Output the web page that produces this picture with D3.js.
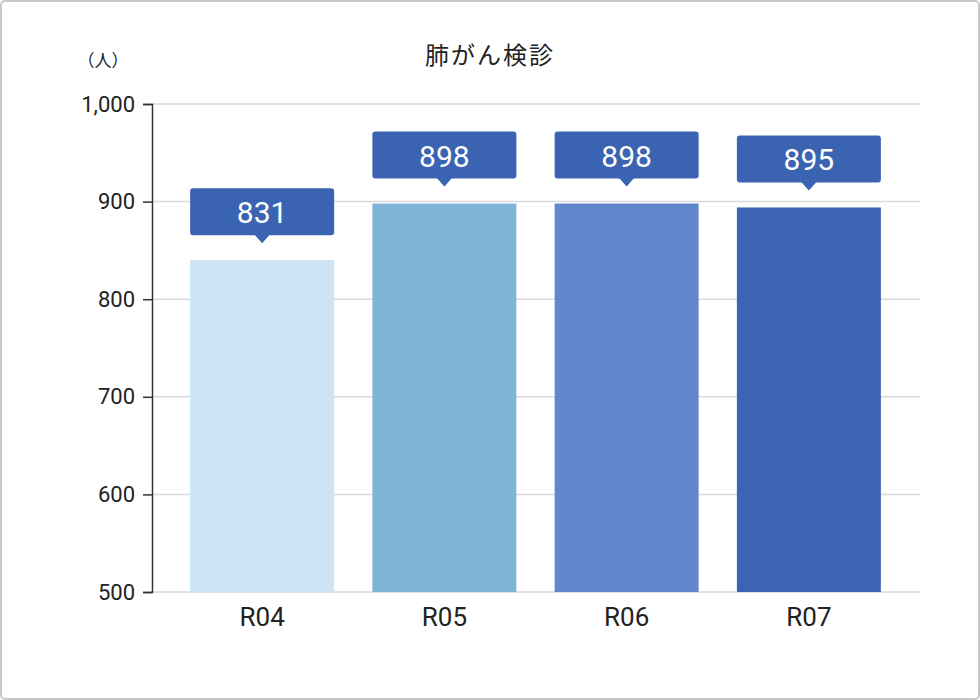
<!DOCTYPE html>
<html><head><meta charset="utf-8">
<script src="https://cdn.jsdelivr.net/npm/d3@7"></script>
<style>body{margin:0;background:#fff;font-family:"Noto Sans CJK JP","Noto Sans",sans-serif}</style>
</head><body><svg id="c" width="980" height="700"></svg>
<script>
const categories=["R04","R05","R06","R07"];
const values=[840,898,898,894];
const labels=["831","898","898","895"];
const colors=["#cce4f5","#7fb6d8","#6186cc","#3c64b2"];
const yTicks=[500,600,700,800,900,1000];
const svg=d3.select("#c");
svg.append("rect").attr("x",1).attr("y",1).attr("width",978).attr("height",698).attr("rx",4).attr("fill","#fff").attr("stroke","#c8c8c8").attr("stroke-width",2);
const x=d3.scaleBand().domain(categories).range([171,900]).paddingInner(0.21).paddingOuter(0.105);
const y=d3.scaleLinear().domain([500,1000]).range([592,104]);
svg.append("g").selectAll("line").data(yTicks).join("line").attr("x1",152).attr("x2",920).attr("y1",d=>y(d)).attr("y2",d=>y(d)).attr("stroke","#d9d9d9").attr("stroke-width",1.5);
const ax=svg.append("g").attr("transform","translate(152,0)").call(d3.axisLeft(y).tickValues(yTicks).tickSize(9).tickPadding(8));
ax.select(".domain").attr("stroke","#333").attr("stroke-width",1.5);
ax.selectAll(".tick line").attr("stroke","#333").attr("stroke-width",1.5);
ax.selectAll("text").attr("font-size",22).attr("fill","#222").attr("font-family","Roboto,'Noto Sans',sans-serif");
svg.append("g").selectAll("rect").data(categories).join("rect").attr("x",d=>x(d)).attr("width",x.bandwidth()).attr("y",(d,i)=>y(values[i])).attr("height",(d,i)=>y(500)-y(values[i])).attr("fill",(d,i)=>colors[i]);
const xa=svg.append("g").attr("transform","translate(0,592)").call(d3.axisBottom(x).tickSize(0).tickPadding(16));
xa.select(".domain").remove();
xa.selectAll("text").attr("font-size",26).attr("fill","#222").attr("font-family","Roboto,'Noto Sans',sans-serif");
const lg=svg.append("g").selectAll("g").data(categories).join("g").attr("transform",(d,i)=>`translate(${x(d)+x.bandwidth()/2},${y(values[i])-17})`);
lg.append("rect").attr("x",-72).attr("width",144).attr("y",-55).attr("height",47).attr("rx",3).attr("fill","#3a63b2");
lg.append("path").attr("d","M-8,-9L0,0L8,-9Z").attr("fill","#3a63b2");
lg.append("text").text((d,i)=>labels[i]).attr("text-anchor","middle").attr("y",-20).attr("font-size",30).attr("fill","#fff").attr("font-family","Roboto,'Noto Sans',sans-serif");
svg.append("text").attr("x",490).attr("y",64).attr("text-anchor","middle").attr("font-size",24).attr("fill","#222").attr("letter-spacing",2).text("肺がん検診");
svg.append("text").attr("x",103).attr("y",67).attr("text-anchor","middle").attr("font-size",17).attr("fill","#222").text("（人）");
</script></body></html>
